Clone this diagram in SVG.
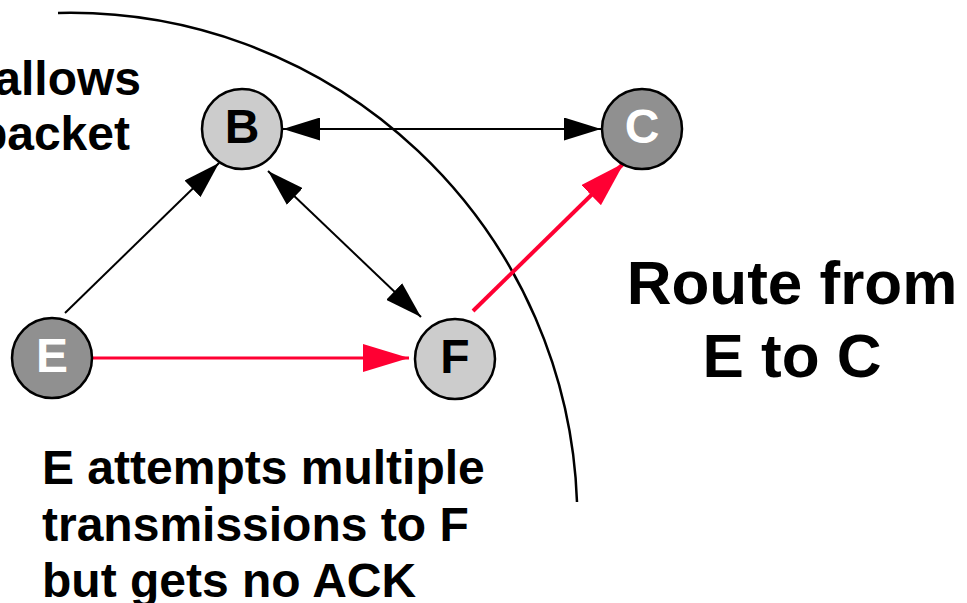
<svg xmlns="http://www.w3.org/2000/svg" width="967" height="603" viewBox="0 0 967 603">
  <style>
    .node { stroke: #000; stroke-width: 2.5; }
    .light { fill: #cccccc; }
    .dark { fill: #909090; }
    .lbl { font-family: "Liberation Sans", Arial, sans-serif; font-weight: bold; font-size: 48px; text-anchor: middle; }
    .txt { font-family: "Liberation Sans", Arial, sans-serif; font-weight: bold; font-size: 48px; fill: #000; }
    .big { font-family: "Liberation Sans", Arial, sans-serif; font-weight: bold; font-size: 62px; fill: #000; text-anchor: middle; }
    .blk { stroke: #000; stroke-width: 2; fill: none; }
    .red { stroke: #ff0033; fill: none; }
  </style>
  <defs>
    <marker id="headBlack" markerUnits="userSpaceOnUse" markerWidth="37" markerHeight="23" refX="37" refY="11.5" orient="auto-start-reverse" viewBox="0 0 37 23">
      <path d="M0,0 L37,11.5 L0,23 z" fill="#000"/>
    </marker>
    <marker id="headRed" markerUnits="userSpaceOnUse" markerWidth="46" markerHeight="28" refX="46" refY="14" orient="auto" viewBox="0 0 46 28">
      <path d="M0,0 L46,14 L0,28 z" fill="#ff0033"/>
    </marker>
  </defs>

  <rect width="967" height="603" fill="#fff"/>

  <!-- transmission range boundary -->
  <path id="range" d="M58,13 A507,507 0 0 1 577,502" fill="none" stroke="#000" stroke-width="2.5"/>

  <!-- links -->
  <g id="connectors">
    <line class="blk" x1="283" y1="129" x2="601" y2="129" marker-start="url(#headBlack)" marker-end="url(#headBlack)"/>
    <line class="blk" x1="65" y1="313" x2="219" y2="163" marker-end="url(#headBlack)"/>
    <line class="blk" x1="268" y1="171" x2="421" y2="317" marker-start="url(#headBlack)" marker-end="url(#headBlack)"/>
    <line class="red" stroke-width="3" x1="93" y1="358" x2="409" y2="358" marker-end="url(#headRed)"/>
    <line class="red" stroke-width="4" x1="473" y1="311" x2="624" y2="163" marker-end="url(#headRed)"/>
  </g>

  <!-- nodes -->
  <g id="node-B">
    <circle class="node light" cx="242" cy="129" r="40"/>
    <text class="lbl" x="242" y="143" fill="#000">B</text>
  </g>
  <g id="node-C">
    <circle class="node dark" cx="642" cy="129" r="40"/>
    <text class="lbl" x="642" y="143" fill="#fff">C</text>
  </g>
  <g id="node-E">
    <circle class="node dark" cx="52" cy="358" r="40"/>
    <text class="lbl" x="52" y="372" fill="#fff">E</text>
  </g>
  <g id="node-F">
    <circle class="node light" cx="455" cy="359" r="40"/>
    <text class="lbl" x="455" y="373" fill="#000">F</text>
  </g>

  <!-- captions -->
  <text class="txt" x="141" y="95" text-anchor="end">allows</text>
  <text class="txt" x="130" y="150" text-anchor="end">packet</text>

  <text class="big" x="792" y="304">Route from</text>
  <text class="big" x="792" y="377">E to C</text>

  <text class="txt" x="42" y="484">E attempts multiple</text>
  <text class="txt" x="42" y="541">transmissions to F</text>
  <text class="txt" x="42" y="597">but gets no ACK</text>
</svg>
